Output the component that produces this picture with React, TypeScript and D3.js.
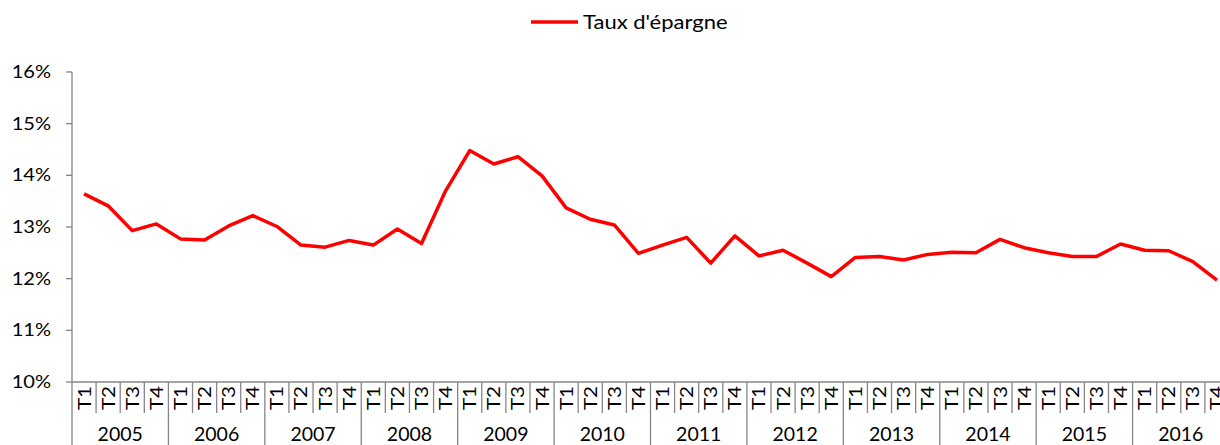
import React from "react";
import * as d3 from "d3";

const years = ["2005","2006","2007","2008","2009","2010","2011","2012","2013","2014","2015","2016"];
const quarters = ["T1","T2","T3","T4"];
const savingsRate = [
  13.64, 13.41, 12.93, 13.06,
  12.77, 12.75, 13.02, 13.22,
  13.01, 12.65, 12.61, 12.74,
  12.65, 12.96, 12.68, 13.70,
  14.48, 14.22, 14.36, 13.99,
  13.37, 13.15, 13.04, 12.49,
  12.65, 12.80, 12.30, 12.83,
  12.44, 12.55, 12.30, 12.04,
  12.41, 12.43, 12.36, 12.47,
  12.51, 12.50, 12.76, 12.60,
  12.50, 12.43, 12.43, 12.67,
  12.55, 12.54, 12.33, 11.97,
];
const yTicks = [10, 11, 12, 13, 14, 15, 16];
const seriesName = "Taux d'épargne";

const W = 1220, H = 445;
const left = 72, right = 1229, top = 72, bottom = 382;
const font = "Lato, 'Open Sans', sans-serif";
const axisColor = "#868686";

export default function App() {
  const cats = years.flatMap((y) => quarters.map((q) => `${y}-${q}`));
  const x = d3.scaleBand<string>().domain(cats).range([left, right]).paddingInner(0).paddingOuter(0);
  const xYear = d3.scaleBand<string>().domain(years).range([left, right]);
  const y = d3.scaleLinear().domain([10, 16]).range([bottom, top]);
  const line = d3.line<number>()
    .x((_, i) => (x(cats[i]) as number) + x.bandwidth() / 2)
    .y((d) => y(d));

  return (
    <svg width={W} height={H} style={{ position: "absolute", left: 0, top: 0, background: "#fff" }}>
      {/* legend */}
      <line x1={531} x2={578} y1={22} y2={22} stroke="#ff0000" strokeWidth={3.5} />
      <g transform="translate(583,29) scale(1.1,1)">
        <text fontFamily={font} fontSize={20} fill="#000">{seriesName}</text>
      </g>

      {/* y axis */}
      <line x1={left} x2={left} y1={top} y2={H} stroke={axisColor} strokeWidth={1.3} />
      {yTicks.map((t) => (
        <g key={t}>
          <line x1={left - 6} x2={left} y1={y(t)} y2={y(t)} stroke={axisColor} strokeWidth={1.3} />
          <g transform={`translate(51,${y(t) + 6}) scale(1.18,1)`}>
            <text textAnchor="end" fontFamily={font} fontSize={17} fill="#000">{`${t}%`}</text>
          </g>
        </g>
      ))}

      {/* x axis */}
      <line x1={left} x2={right} y1={bottom} y2={bottom} stroke={axisColor} strokeWidth={1.3} />
      {cats.map((c, i) => {
        const x0 = x(c) as number;
        const isYear = i % 4 === 0;
        return (
          <g key={c}>
            {i > 0 && (
              <line x1={x0} x2={x0} y1={bottom} y2={isYear ? H : 413} stroke={axisColor} strokeWidth={1.3} />
            )}
            <text
              transform={`translate(${x0 + x.bandwidth() / 2 + 6.5},398) rotate(-90) scale(1.15,1)`}
              textAnchor="middle"
              fontFamily={font}
              fontSize={18}
              fill="#000"
            >
              {quarters[i % 4]}
            </text>
          </g>
        );
      })}
      <line x1={right} x2={right} y1={bottom} y2={H} stroke={axisColor} strokeWidth={1.3} />
      {years.map((yr) => (
        <text key={yr} x={(xYear(yr) as number) + xYear.bandwidth() / 2} y={441} textAnchor="middle"
          fontFamily={font} fontSize={19.5} fill="#000">{yr}</text>
      ))}

      {/* line */}
      <path d={line(savingsRate) || ""} fill="none" stroke="#ff0000" strokeWidth={3.5} strokeLinejoin="round" />
    </svg>
  );
}
